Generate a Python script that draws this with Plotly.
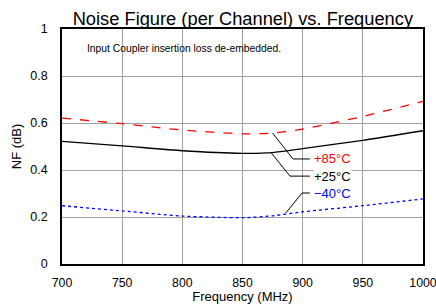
import plotly.graph_objects as go

freq = [700, 750, 800, 850, 875, 900, 950, 1000]
nf_85 = [0.621, 0.597, 0.570, 0.554, 0.557, 0.574, 0.628, 0.692]
nf_25 = [0.522, 0.503, 0.482, 0.471, 0.474, 0.491, 0.526, 0.567]
nf_m40 = [0.248, 0.226, 0.204, 0.197, 0.205, 0.222, 0.248, 0.277]

labels = ["+85°C", "+25°C", "\u221240°C"]
colors = ["#ff0000", "#000000", "#0000ff"]
dashes = ["dash", "solid", "dot"]
series = [nf_85, nf_25, nf_m40]

# leader lines (data coords): start on curve, elbow, end
lead_x = [[875, 892, 906], [874, 889.5, 906], [886, 899.5, 906]]
lead_y = [[0.557, 0.447, 0.447], [0.472, 0.374, 0.374], [0.217, 0.302, 0.302]]

FONT = "Liberation Sans, Arial"

fig = go.Figure()
for s, c, d in zip(series, colors, dashes):
    fig.add_trace(go.Scatter(x=freq, y=s, mode="lines", line=dict(color=c, width=1.3, dash=d, shape="spline", smoothing=0.6), showlegend=False))

for lx, ly, lab, c in zip(lead_x, lead_y, labels, colors):
    fig.add_trace(go.Scatter(x=lx, y=ly, mode="lines", line=dict(color="black", width=1), showlegend=False))
    fig.add_annotation(x=lx[-1], y=ly[-1], text=lab, showarrow=False, xanchor="left", yanchor="middle",
                       xshift=3, font=dict(family=FONT, size=13, color=c), bgcolor="white", borderpad=0)

fig.add_annotation(x=0.064, y=0.915, xref="paper", yref="paper", text="Input Coupler insertion loss de-embedded.",
                   showarrow=False, xanchor="left", yanchor="middle", font=dict(family=FONT, size=10.3, color="black"))

fig.update_layout(
    width=436, height=304,
    margin=dict(l=62, r=13, t=29, b=40),
    paper_bgcolor="white", plot_bgcolor="white",
    font=dict(family=FONT, size=12.5, color="black"),
    title=dict(text="Noise Figure (per Channel) vs. Frequency", x=0.557, xanchor="center", y=1 - 18.5 / 304, yanchor="middle",
               font=dict(size=18.3, color="black")),
    xaxis=dict(range=[700, 1000], dtick=50, showgrid=True, gridcolor="#a0a0a0", gridwidth=1,
               showline=True, linecolor="black", linewidth=1.5, mirror=True, ticks="", ticklabelstandoff=6,
               automargin=False, ticklabeloverflow="allow", tickfont=dict(size=12.3),
               title=dict(text="Frequency (MHz)", standoff=2, font=dict(size=13)), zeroline=False),
    yaxis=dict(range=[0, 1], dtick=0.2, showgrid=True, gridcolor="#a0a0a0", gridwidth=1,
               showline=True, linecolor="black", linewidth=1.5, mirror=True, ticks="", ticklabelstandoff=10,
               automargin=False, ticklabeloverflow="allow",
               tickvals=[0, 0.2, 0.4, 0.6, 0.8, 1], ticktext=["0", "0.2", "0.4", "0.6", "0.8", "1"],
               title=dict(text="NF (dB)", standoff=6, font=dict(size=13)), zeroline=False),
)

fig.write_html("out.html", config={"displayModeBar": False},
               post_script="document.body.style.margin='0';document.body.style.overflow='hidden';")
